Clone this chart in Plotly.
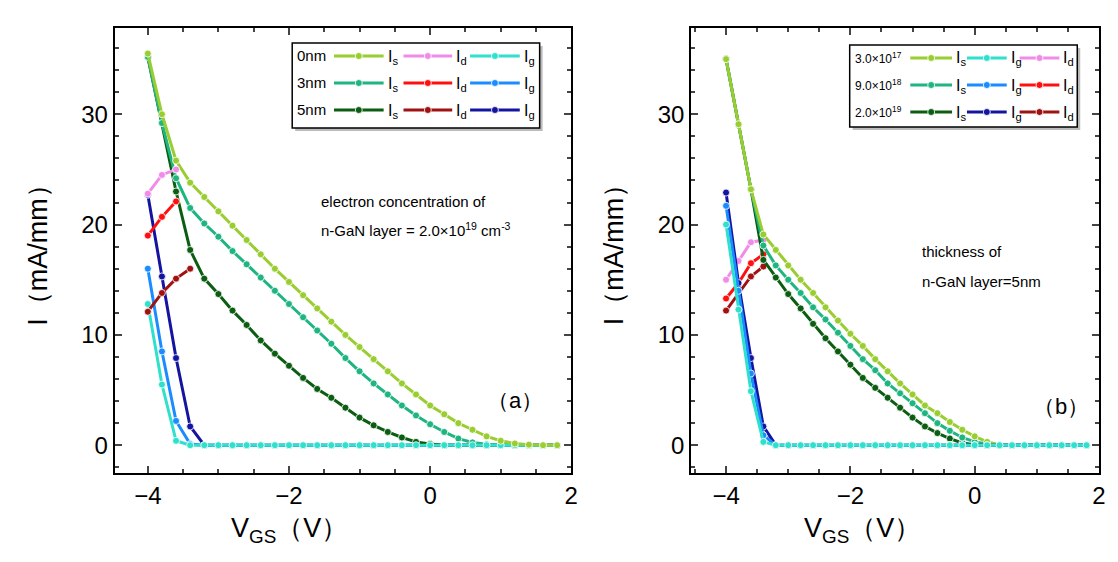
import numpy as np
import plotly.graph_objects as go

W, H = 1118, 562
vgs = np.round(np.arange(-4, 1.81, 0.2), 1)

# panel (a): thickness of n-GaN layer
is_0nm = [35.5, 30.0, 25.8, 23.8, 22.5, 21.2, 19.9, 18.6, 17.3, 16.0, 14.8, 13.6, 12.4, 11.2, 10.0,
          8.9, 7.8, 6.7, 5.6, 4.6, 3.6, 2.8, 2.0, 1.4, 0.8, 0.4, 0.15, 0.05, 0, 0]
id_0nm = [22.8, 24.5, 25.0]
ig_0nm = [12.8, 5.5, 0.4] + [0] * 27
is_3nm = [35.2, 29.2, 24.2, 21.5, 20.1, 18.9, 17.6, 16.4, 15.2, 14.0, 12.8, 11.6, 10.4, 9.2, 7.9,
          6.7, 5.6, 4.6, 3.6, 2.7, 1.9, 1.2, 0.6, 0.25, 0.08, 0, 0, 0, 0, 0]
id_3nm = [19.0, 20.7, 22.1]
ig_3nm = [16.0, 8.5, 2.2, 0.1] + [0] * 26
is_5nm = [35.2, 29.2, 23.0, 17.7, 15.1, 13.7, 12.2, 10.9, 9.5, 8.3, 7.2, 6.1, 5.1, 4.3, 3.4,
          2.5, 1.8, 1.2, 0.7, 0.3, 0.1, 0, 0, 0, 0, 0, 0, 0, 0, 0]
id_5nm = [12.1, 13.8, 15.1, 16.0]
ig_5nm = [22.7, 15.3, 7.9, 1.7] + [0] * 26

# panel (b): electron concentration
is_3e17 = [35.0, 29.1, 23.2, 19.1, 17.7, 16.3, 15.0, 13.8, 12.5, 11.3, 10.1, 9.0, 7.8, 6.7, 5.6,
           4.6, 3.6, 2.9, 2.1, 1.4, 0.8, 0.3, 0.05, 0, 0, 0, 0, 0, 0, 0]
ig_3e17 = [20.0, 12.3, 4.9, 0.3] + [0] * 26
id_3e17 = [15.0, 16.7, 18.4, 18.6]
is_9e18 = [35.0, 29.1, 23.2, 18.1, 16.3, 15.0, 13.8, 12.5, 11.4, 10.2, 9.0, 7.8, 6.8, 5.6, 4.7,
           3.8, 2.9, 2.0, 1.3, 0.7, 0.3, 0.1, 0, 0, 0, 0, 0, 0, 0, 0]
ig_9e18 = [21.7, 14.0, 6.5, 0.9] + [0] * 26
id_9e18 = [13.3, 14.7, 16.5, 17.3]
is_2e19 = [35.0, 29.1, 23.2, 16.8, 15.2, 13.7, 12.4, 11.0, 9.7, 8.5, 7.3, 6.1, 5.2, 4.3, 3.4,
           2.5, 1.7, 1.1, 0.6, 0.2, 0.05, 0, 0, 0, 0, 0, 0, 0, 0, 0]
ig_2e19 = [22.9, 14.7, 7.9, 1.7] + [0] * 26
id_2e19 = [12.2, 13.7, 15.3, 16.2]

YG, PINK, CYAN = "#9acd32", "#f08ce8", "#2fe0cc"
SG, RED, BLUE = "#1fb580", "#ff1010", "#1a8cff"
DG, DRED, NAVY = "#0b5d12", "#a01212", "#1414a0"

fig = go.Figure()

def add(x, y, color, ax):
    fig.add_trace(go.Scatter(x=x, y=y, mode="lines+markers", xaxis="x" + ax, yaxis="y" + ax,
                             line=dict(color=color, width=3),
                             marker=dict(color=color, size=7, line=dict(color="white", width=0.8)),
                             showlegend=False))

# panel a
for y, c in [(ig_5nm, NAVY), (ig_3nm, BLUE)]:
    add(vgs, y, c, "")
for y, c in [(is_5nm, DG), (is_3nm, SG)]:
    add(vgs, y, c, "")
add(vgs, ig_0nm, CYAN, "")
add(vgs, is_0nm, YG, "")
for y, c in [(id_0nm, PINK), (id_3nm, RED), (id_5nm, DRED)]:
    add(vgs[:len(y)], y, c, "")
# panel b
for y, c in [(id_3e17, PINK), (id_9e18, RED), (id_2e19, DRED)]:
    add(vgs[:len(y)], y, c, "2")
for y, c in [(is_2e19, DG), (is_9e18, SG), (is_3e17, YG)]:
    add(vgs, y, c, "2")
add(vgs, ig_2e19, NAVY, "2")
add(vgs, ig_9e18, BLUE, "2")
add(vgs, ig_3e17, CYAN, "2")

font = dict(family="Liberation Sans, Arial", color="black")
ax_common = dict(showline=True, linewidth=2, linecolor="black", mirror="ticks", ticks="inside",
                 ticklen=7, tickwidth=2, showgrid=False, zeroline=False,
                 tickfont=dict(size=24, **font))
yd = [0.173, 0.964]
fig.update_layout(
    width=W, height=H, margin=dict(l=0, r=0, t=0, b=0),
    plot_bgcolor="white", paper_bgcolor="white",
    xaxis=dict(domain=[0.096, 0.507], range=[-4.47, 2], dtick=2, anchor="y",
               minor=dict(dtick=0.5, ticks="inside", ticklen=4), **ax_common),
    yaxis=dict(domain=yd, range=[-2.5, 37.8], dtick=10, anchor="x",
               minor=dict(dtick=2, ticks="inside", ticklen=4), **ax_common),
    xaxis2=dict(domain=[0.615, 0.982], range=[-4.56, 2], dtick=2, anchor="y2",
                minor=dict(dtick=0.5, ticks="inside", ticklen=4), **ax_common),
    yaxis2=dict(domain=yd, range=[-2.5, 37.8], dtick=10, anchor="x2",
                minor=dict(dtick=2, ticks="inside", ticklen=4), **ax_common),
)

def px(x, y):
    return x / W, 1 - y / H

def text(x, y, s, size, xanchor="left", **kw):
    xp, yp = px(x, y)
    fig.add_annotation(x=xp, y=yp, xref="paper", yref="paper", text=s, showarrow=False,
                       xanchor=xanchor, yanchor="middle", font=dict(size=size, **font), **kw)

# axis titles
for cx in (283, 860):
    text(cx, 522, "V<sub>GS</sub>（V）", 27, xanchor="center")
for cx in (30, 610):
    text(cx, 240, "I（mA/mm）", 27, xanchor="center", textangle=-90)

text(510, 392, "（a）", 22, xanchor="center")
text(1060, 398, "（b）", 22, xanchor="center")
text(313, 193, "electron concentration of", 15)
text(313, 221, "n-GaN layer = 2.0×10<sup>19</sup> cm<sup>-3</sup>", 15)
text(918, 243, "thickness of", 15)
text(918, 273, "n-GaN layer=5nm", 15)

def legend(box, labels, seg_x, subs, colors, lsize):
    x0, y0, x1, y1 = box
    fig.add_shape(type="rect", xref="paper", yref="paper", x0=(x0 + 3) / W, x1=(x1 + 3) / W,
                  y0=1 - (y1 + 3) / H, y1=1 - (y0 + 3) / H, fillcolor="#bbbbbb", line=dict(width=0), layer="above")
    fig.add_shape(type="rect", xref="paper", yref="paper", x0=x0 / W, x1=x1 / W,
                  y0=1 - y1 / H, y1=1 - y0 / H, fillcolor="white", line=dict(color="black", width=1.5), layer="above")
    rows = [y0 + 13, y0 + 40, y0 + 67]
    for r, (lab, ry) in enumerate(zip(labels, rows)):
        text(x0 + 3, ry, lab, lsize)
        for k, (sx0, sx1) in enumerate(seg_x):
            c = colors[r][k]
            fig.add_shape(type="line", xref="paper", yref="paper", x0=sx0 / W, x1=sx1 / W,
                          y0=1 - ry / H, y1=1 - ry / H, line=dict(color=c, width=3), layer="above")
            cx = (sx0 + sx1) / 2
            fig.add_shape(type="circle", xref="paper", yref="paper", x0=(cx - 3.5) / W, x1=(cx + 3.5) / W,
                          y0=1 - (ry + 3.5) / H, y1=1 - (ry - 3.5) / H, fillcolor=c,
                          line=dict(color="white", width=0.8), layer="above")
            text(sx1 + 2, ry + 1, "I<sub>%s</sub>" % subs[k], 16)

legend((286, 35, 535, 120), ["0nm", "3nm", "5nm"], [(328, 378), (398, 447), (465, 515)], "sdg",
       [[YG, PINK, CYAN], [SG, RED, BLUE], [DG, DRED, NAVY]], 15)
legend((847, 37, 1076, 119), ["3.0×10<sup>17</sup>", "9.0×10<sup>18</sup>", "2.0×10<sup>19</sup>"],
       [(908, 950), (965, 1005), (1018, 1058)], "sgd",
       [[YG, CYAN, PINK], [SG, BLUE, RED], [DG, NAVY, DRED]], 12)

fig.write_html("out.html")
